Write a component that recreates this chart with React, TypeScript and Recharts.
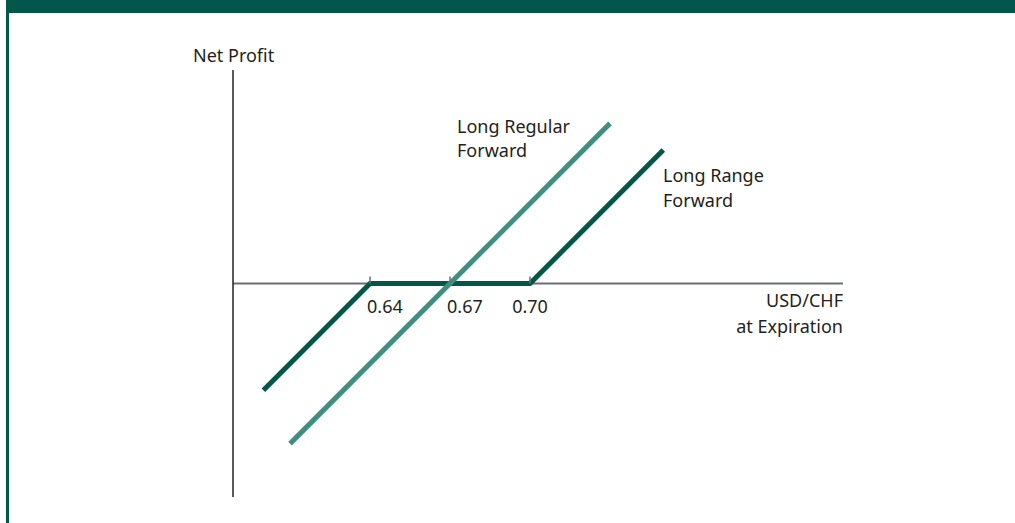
import { LineChart, Line, XAxis, YAxis, ReferenceLine, ReferenceDot } from 'recharts'

// payoff diagrams, x = USD/CHF at expiration, y = net profit (price units)
const regularForward = [
  { s: 0.61, profit: -0.06 },
  { s: 0.73, profit: 0.06 }
]
const rangeForward = [
  { s: 0.6, profit: -0.04 },
  { s: 0.64, profit: 0 },
  { s: 0.7, profit: 0 },
  { s: 0.75, profit: 0.05 }
]
const strikeTicks = [0.64, 0.67, 0.7]
const tickLabels = ['0.64', '0.67', '0.70']

const DARK = '#03574a'
const TEAL = '#3f8f80'
const INK = '#231f20'
const FONT = '"Noto Sans", "Open Sans", sans-serif'

const label = (left: number, top: number, lh: number, align: 'left' | 'right' = 'left') => ({
  position: 'absolute' as const,
  left: align === 'left' ? left : undefined,
  right: align === 'right' ? 1015 - left : undefined,
  top,
  lineHeight: `${lh}px`,
  fontSize: 18,
  fontFamily: FONT,
  color: INK,
  textAlign: align,
  whiteSpace: 'nowrap' as const
})

export default function App() {
  return (
    <div style={{ position: 'fixed', left: 0, top: 0, width: 1015, height: 523, background: '#fff', overflow: 'hidden' }}>
      <div style={{ position: 'absolute', left: 6, top: 0, width: 1009, height: 13, background: DARK }} />
      <div style={{ position: 'absolute', left: 6, top: 0, width: 3, height: 523, background: DARK }} />

      <LineChart
        width={1015}
        height={523}
        margin={{ top: 70, right: 172, bottom: 26, left: 223 }}
        style={{ position: 'absolute', left: 0, top: 0 }}
      >
        <XAxis type="number" dataKey="s" domain={[0.5886, 0.8174]} hide allowDataOverflow />
        <YAxis
          type="number"
          domain={[-0.08, 0.08]}
          width={10}
          tick={false}
          tickLine={false}
          axisLine={{ stroke: '#222', strokeWidth: 1.5 }}
        />
        <ReferenceLine y={0} stroke="#6d6e71" strokeWidth={2} />
        {strikeTicks.map((t, i) => (
          <ReferenceDot
            key={t}
            x={t}
            y={0}
            r={0}
            shape={(p: any) => (
              <g>
                <line x1={p.cx} y1={p.cy - 7} x2={p.cx} y2={p.cy} stroke="#6d6e71" strokeWidth={1.5} />
                <text
                  x={i < 2 ? p.cx - 3 : p.cx}
                  y={p.cy + 29}
                  textAnchor={i < 2 ? 'start' : 'middle'}
                  fontSize={18}
                  fontFamily={FONT}
                  fill={INK}
                >
                  {tickLabels[i]}
                </text>
              </g>
            )}
          />
        ))}
        <Line
          data={rangeForward}
          dataKey="profit"
          type="linear"
          stroke={DARK}
          strokeWidth={5}
          dot={false}
          activeDot={false}
          isAnimationActive={false}
        />
        <Line
          data={regularForward}
          dataKey="profit"
          type="linear"
          stroke={TEAL}
          strokeWidth={5}
          dot={false}
          activeDot={false}
          isAnimationActive={false}
        />
      </LineChart>

      <div style={label(193, 43, 24)}>Net Profit</div>
      <div style={label(457, 114, 24)}>
        Long Regular
        <br />
        Forward
      </div>
      <div style={label(663, 163, 25)}>
        Long Range
        <br />
        Forward
      </div>
      <div style={label(843, 287, 26, 'right')}>
        USD/CHF
        <br />
        at Expiration
      </div>
    </div>
  )
}
